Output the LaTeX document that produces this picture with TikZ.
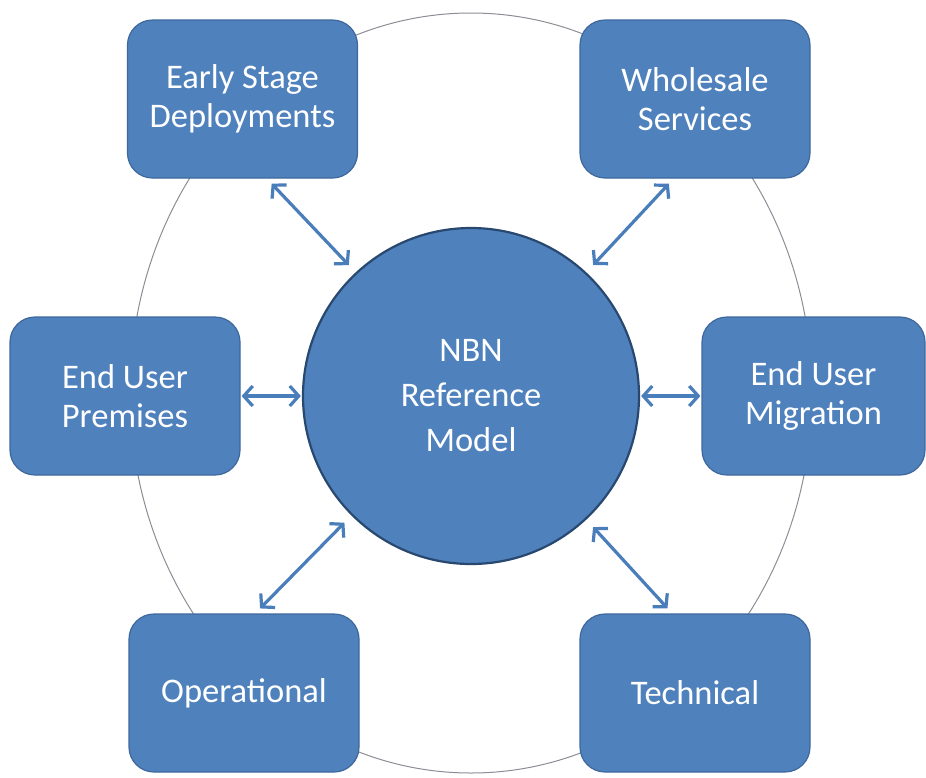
\documentclass[tikz,border=0pt]{standalone}
\usepackage{fontspec}
\setmainfont{Carlito}
\usepackage{xcolor}
\usepackage{tikz}
\usetikzlibrary{arrows.meta}

\definecolor{boxblue}{RGB}{79,129,189}
\definecolor{boxedge}{RGB}{62,104,156}
\definecolor{hubedge}{RGB}{40,72,112}
\definecolor{linkblue}{RGB}{74,126,187}
\definecolor{ringgray}{RGB}{140,142,150}

\begin{document}
\begin{tikzpicture}[x=1pt, y=1pt,
    area/.style={draw=boxedge, line width=1.2pt, fill=boxblue, rounded corners=25pt,
        minimum width=230pt, minimum height=158pt, align=center, text=white,
        font=\fontsize{34.5}{38.5}\selectfont},
    link/.style={draw=linkblue, line width=3.2pt,
        {Straight Barb[length=9pt, width=20pt]}-{Straight Barb[length=9pt, width=20pt]},
        shorten <=7pt, shorten >=10pt}]
        \useasboundingbox (0, 0) rectangle (926, -777);

        % thin ring behind the boxes
        \draw[ringgray, line width=1pt] (471, -393) ellipse (341 and 380);

        \node[circle, draw=hubedge, line width=2.2pt, fill=boxblue, minimum size=336pt,
            inner sep=0pt, align=center, text=white, font=\fontsize{34.5}{45}\selectfont]
            (hub) at (471, -396) {NBN\\Reference\\Model};

        \node[area] (esd) at (242.5, -99) {Early Stage\\Deployments};
        \node[area] (ws) at (695, -99) {Wholesale\\Services};
        \node[area] (eup) at (125, -396) {End User\\Premises};
        \node[area, minimum width=223pt] (eum) at (813.5, -396) {End User\\Migration};
        \node[area] (op) at (244, -693) {Operational};
        \node[area] (tech) at (695, -693) {Technical};

        \draw[link] (esd.-73) -- (hub.133);
        \draw[link] (ws.-105) -- (hub.47);
        \draw[link, shorten <=1pt, shorten >=1pt] (eup.east) -- (hub.west);
        \draw[link, shorten <=1pt, shorten >=1pt] (eum.west) -- (hub.east);
        \draw[link] (op.82) -- (hub.225);
        \draw[link] (tech.106) -- (hub.-47);
    \end{tikzpicture}
\end{document}
